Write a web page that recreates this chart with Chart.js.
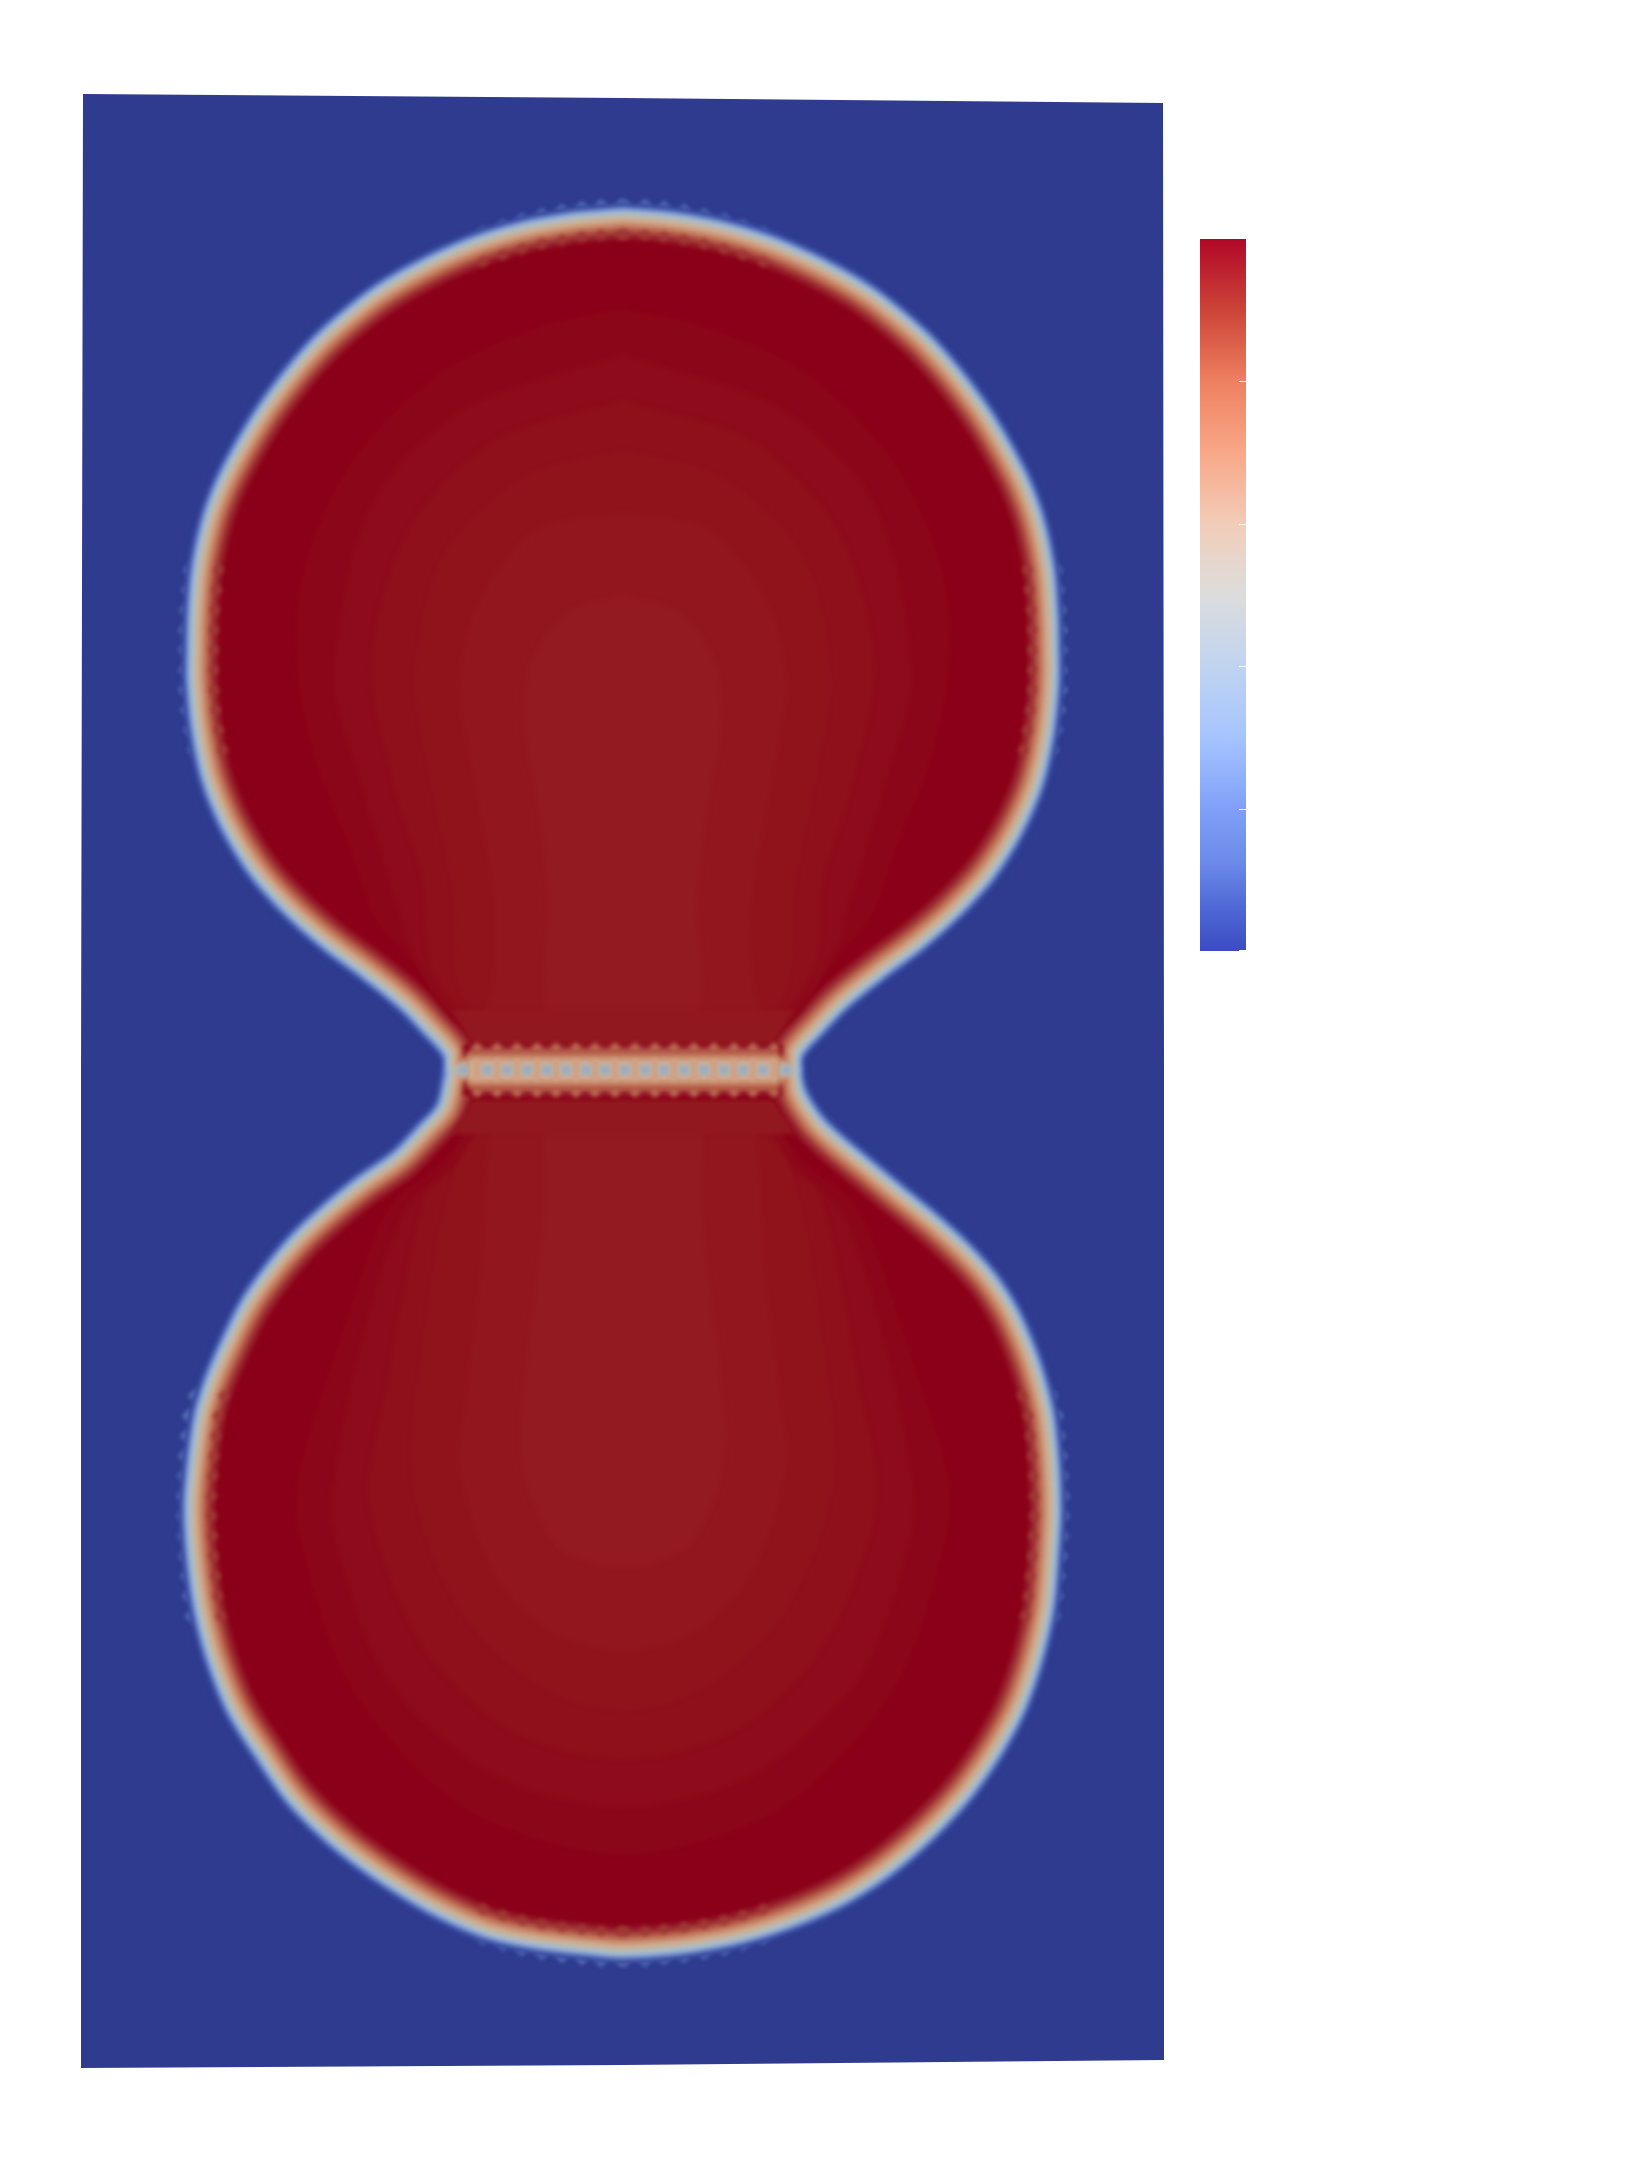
<!DOCTYPE html>
<html>
<head>
<meta charset="utf-8">
<title>Phase field</title>
<script src="https://cdn.jsdelivr.net/npm/chart.js@4/dist/chart.umd.min.js"></script>
<style>
  html, body { margin: 0; background: #fff; }
  #page { position: relative; width: 1644px; height: 2160px; overflow: hidden; }
  #field { position: absolute; left: 0; top: 0; }
  #bar { position: absolute; left: 1200px; top: 239px; }
</style>
</head>
<body>
<div id="page">
  <canvas id="field" width="1644" height="2160"></canvas>
  <canvas id="bar" width="46" height="712"></canvas>
</div>
<script>
// domain outline, mesh units (neck at 0,0)
const panelX = [-5.40, 0.00, 5.40, 5.41, 5.41, 0.00, -5.42, -5.42, -5.40];
const panelY = [9.78, 9.74, 9.69, 0.00, -9.88, -9.93, -9.96, 0.00, 9.78];

// phase boundary, read around each lobe
const upperRightX = [0, 0.47, 0.97, 1.47, 1.97, 2.47, 2.97, 3.30, 3.64, 3.97, 4.14, 4.25, 4.29, 4.30, 4.30, 4.25, 4.14, 3.94, 3.67, 3.34, 2.97, 2.57, 2.20, 1.94, 1.74, 1.72, 1.60];
const upperRightY = [8.58, 8.54, 8.45, 8.30, 8.08, 7.79, 7.38, 7.02, 6.56, 5.98, 5.55, 5.05, 4.59, 4.22, 3.89, 3.39, 2.89, 2.42, 1.99, 1.62, 1.29, 0.99, 0.69, 0.42, 0.19, 0.02, 0.02];
const lowerX = [1.72, 1.77, 1.94, 2.14, 2.44, 2.74, 3.07, 3.40, 3.67, 3.90, 4.10, 4.24, 4.30, 4.32, 4.30, 4.25, 4.14, 3.97, 3.74, 3.44, 3.07, 2.64, 2.17, 1.64, 1.14, 0.57, 0, -0.26, -0.86, -1.36, -1.86, -2.36, -2.86, -3.30, -3.63, -3.90, -4.10, -4.23, -4.30, -4.33, -4.30, -4.23, -4.13, -3.96, -3.76, -3.53, -3.26, -2.96, -2.63, -2.26, -2.00, -1.80, -1.70, -1.60, 1.60];
const lowerY = [0.02, -0.21, -0.48, -0.68, -0.93, -1.18, -1.45, -1.75, -2.05, -2.41, -2.88, -3.38, -3.88, -4.38, -4.78, -5.35, -5.85, -6.35, -6.78, -7.21, -7.61, -7.98, -8.28, -8.51, -8.66, -8.76, -8.80, -8.78, -8.71, -8.60, -8.38, -8.08, -7.71, -7.28, -6.81, -6.38, -5.88, -5.38, -4.88, -4.38, -3.95, -3.45, -3.11, -2.71, -2.31, -1.98, -1.66, -1.38, -1.11, -0.85, -0.58, -0.35, 0.02, 0.02, 0.02];

// distance from the boundary and the colour found there
const ringOffsets = [0.12, 0.09, 0.065, 0.04, 0.02, -0.01, -0.04, -0.08, -0.12, -0.16, -0.20, -0.25];
const ringColors = ['#33429a', '#4a62b0', '#6f8cc8', '#94add6', '#aebcc8', '#bdb9aa', '#d0ab8e', '#c98c6e', '#bc6a52', '#a8443c', '#96202c', '#8b0018'];

// inner contours of the upper lobe (right half)
const upperContoursX = [
  [0, 0.86, 1.87, 2.73, 3.20, 3.25, 3.06, 2.73, 2.48, 2.21, 2.01, 1.58, 0],
  [0, 1.58, 2.52, 2.89, 2.66, 2.23, 2.17, 1.60, 0],
  [0, 1.29, 2.15, 2.52, 2.30, 2.01, 1.94, 1.55, 0],
  [0, 1.00, 1.79, 2.08, 1.94, 1.69, 1.67, 1.50, 0],
  [0, 0.86, 1.43, 1.64, 1.51, 1.29, 1.30, 1.35, 0],
  [0, 0.57, 0.93, 0.99, 0.86, 0.75, 0.74, 0]
];
const upperContoursY = [
  [7.63, 7.44, 6.96, 6.07, 4.98, 3.96, 3.07, 2.24, 1.54, 1.23, 0.96, 0.45, 0.39],
  [7.18, 6.64, 5.68, 3.96, 3.00, 1.54, 1.29, 0.52, 0.45],
  [6.72, 6.32, 5.43, 4.09, 2.88, 1.92, 1.12, 0.58, 0.50],
  [6.23, 5.94, 5.17, 3.96, 3.00, 1.73, 0.99, 0.64, 0.55],
  [5.61, 5.43, 4.73, 3.90, 3.00, 1.73, 0.89, 0.58, 0.50],
  [4.78, 4.60, 4.09, 3.45, 2.69, 1.73, 0.58, 0.50]
];
// inner contours of the lower lobe (right half)
const lowerContoursX = [
  [0, 1.45, 1.80, 2.25, 2.47, 2.97, 3.24, 3.25, 2.73, 1.58, 0],
  [0, 1.45, 1.75, 2.20, 2.64, 2.90, 2.91, 2.37, 1.29, 0],
  [0, 1.40, 1.65, 1.97, 2.40, 2.55, 2.01, 1.15, 0],
  [0, 1.35, 1.69, 2.01, 2.10, 1.65, 0.86, 0],
  [0, 1.25, 1.34, 1.44, 1.60, 1.65, 1.29, 0.71, 0],
  [0, 0.70, 0.79, 0.80, 1.02, 0.97, 0.64, 0]
];
const lowerContoursY = [
  [-0.40, -0.45, -0.90, -1.25, -1.62, -3.11, -4.00, -4.56, -6.13, -7.36, -7.82],
  [-0.45, -0.50, -0.95, -1.41, -2.78, -4.11, -4.56, -6.06, -7.04, -7.36],
  [-0.50, -0.55, -0.95, -1.21, -3.30, -4.30, -5.74, -6.58, -6.88],
  [-0.55, -0.60, -1.01, -2.81, -4.11, -5.35, -6.13, -6.39],
  [-0.50, -0.55, -0.68, -2.11, -3.45, -3.91, -5.02, -5.61, -5.80],
  [-0.50, -0.52, -0.48, -1.45, -3.45, -4.11, -4.76, -4.96]
];
const contourColors = ['#8c0619', '#8d0b1a', '#8f0f1b', '#90131c', '#92161e', '#931a20'];

// the strip either side of the neck is already at the centre value
const neckBlockX = [0, 1.72, 1.50, 0];
const neckBlockY = [0.62, 0.62, 0.28, 0.28];

// tan bands along the neck, half height and colour
const neckBandHalf = [0.20, 0.15, 0.10];
const neckBandColors = ['#b45c48', '#c98c6e', '#d3ad90'];

// mesh cells along the neck
const neckCellX = [-1.60, -1.36, -1.16, -0.96, -0.76, -0.57, -0.37, -0.18, 0.02, 0.22, 0.41, 0.61, 0.81, 1.01, 1.20, 1.40, 1.63];
const neckEdgeX = [-1.46, -1.26, -1.06, -0.86, -0.67, -0.47, -0.28, -0.08, 0.12, 0.32, 0.51, 0.71, 0.91, 1.11, 1.30, 1.51];

// saw teeth left by the mesh where the boundary runs along it, right half
const capToothX = [0.02, 0.22, 0.41, 0.61, 0.81, 1.01, 1.20, 1.40];
const capTopY = [8.65, 8.65, 8.63, 8.60, 8.56, 8.51, 8.45, 8.38];
const capBottomY = [-8.87, -8.87, -8.85, -8.83, -8.80, -8.76, -8.71, -8.65];
const capTopInnerY = [8.37, 8.37, 8.35, 8.32, 8.28, 8.23, 8.17, 8.10];
const capBottomInnerY = [-8.59, -8.59, -8.57, -8.55, -8.52, -8.48, -8.43, -8.37];
const upperSideY = [3.22, 3.42, 3.62, 3.82, 4.02, 4.22, 4.42, 4.62, 4.82, 5.02];
const upperSideX = [4.21, 4.25, 4.28, 4.30, 4.30, 4.30, 4.30, 4.29, 4.27, 4.25];
const lowerSideY = [-3.24, -3.44, -3.64, -3.84, -4.04, -4.24, -4.44, -4.64, -4.84, -5.04, -5.24, -5.44];
const lowerSideX = [4.20, 4.26, 4.28, 4.30, 4.31, 4.32, 4.32, 4.31, 4.30, 4.28, 4.26, 4.23];

// colour bar
const barTicks = [0, 0.2, 0.4, 0.6, 0.8];
const barStops = [0, 0.06, 0.13, 0.2, 0.3, 0.4, 0.5, 0.54, 0.6, 0.7, 0.8, 0.9, 1];
const barColors = ['#3b4cc0', '#4f68d6', '#6d8cea', '#80a0f8', '#a6c4ff', '#c0d4f0', '#dcdcdc', '#e4d8cf', '#f2ccb8', '#f8a888', '#ee8060', '#cc4438', '#b20828'];

const zip = (xs, ys) => xs.map((x, i) => ({ x, y: ys[i] }));
const flip = p => ({ x: -p.x, y: p.y });
const bothSides = pts => pts.concat(pts.map(flip));

// upper lobe is mirror symmetric, lower lobe was read all the way round
const upperHalf = zip(upperRightX, upperRightY);
const upperLobe = upperHalf.concat(upperHalf.slice().reverse().map(flip)).slice(0, -1);
const lowerLobe = zip(lowerX, lowerY);

function mirrored(xs, ys) {
  const half = zip(xs, ys);
  return half.concat(half.slice(0, -1).reverse().map(flip));
}

// move a closed clockwise outline along its normals, positive goes outward
function offsetOutline(points, dist) {
  const n = points.length;
  return points.map((p, i) => {
    const a = points[(i - 1 + n) % n];
    const b = points[(i + 1) % n];
    const tx = b.x - a.x, ty = b.y - a.y;
    const len = Math.hypot(tx, ty) || 1;
    return { x: p.x - dist * ty / len, y: p.y + dist * tx / len };
  });
}

const shape = (data, color, tension) => ({
  data, showLine: true, fill: 'shape', tension,
  backgroundColor: color, borderColor: color, borderWidth: 0, pointRadius: 0
});

const cells = (data, style, radius, color) => ({
  data, showLine: false, pointStyle: style, pointRadius: radius,
  backgroundColor: color, borderWidth: 0
});

const teeth = (xs, ys, gapX, radius, color) =>
  cells(bothSides(zip(xs.map(x => x + gapX), ys)), 'rectRot', radius, color);

const datasets = [shape(zip(panelX, panelY), '#2e3b8e', 0)];

// blue side teeth go under the rings
datasets.push(teeth(capToothX, capTopY, 0, 8, '#5f7cc0'));
datasets.push(teeth(capToothX, capBottomY, 0, 8, '#5f7cc0'));
datasets.push(teeth(upperSideX, upperSideY, 0.07, 8, '#5f7cc0'));
datasets.push(teeth(lowerSideX, lowerSideY, 0.07, 8, '#5f7cc0'));

ringOffsets.forEach((d, i) => {
  datasets.push(shape(offsetOutline(upperLobe, d), ringColors[i], 0.3));
  datasets.push(shape(offsetOutline(lowerLobe, d), ringColors[i], 0.3));
});

// red side teeth
datasets.push(teeth(capToothX, capTopInnerY, 0, 6, '#a03834'));
datasets.push(teeth(capToothX, capBottomInnerY, 0, 6, '#a03834'));
datasets.push(teeth(upperSideX, upperSideY, -0.21, 6, '#a03834'));
datasets.push(teeth(lowerSideX, lowerSideY, -0.21, 6, '#a03834'));

contourColors.forEach((c, i) => {
  datasets.push(shape(mirrored(upperContoursX[i], upperContoursY[i]), c, 0.3));
  datasets.push(shape(mirrored(lowerContoursX[i], lowerContoursY[i]), c, 0.3));
});
datasets.push(shape(mirrored(neckBlockX, neckBlockY), '#92181f', 0));
datasets.push(shape(mirrored(neckBlockX, neckBlockY.map(y => -y)), '#92181f', 0));

datasets.push(cells(neckEdgeX.map(x => ({ x, y: 0.24 })), 'rectRot', 6, '#bc6a52'));
datasets.push(cells(neckEdgeX.map(x => ({ x, y: -0.20 })), 'rectRot', 6, '#bc6a52'));

neckBandHalf.forEach((h, i) => {
  datasets.push(shape(mirrored([0, 1.55, 1.55, 0], [0.02 + h, 0.02 + h, 0.02 - h, 0.02 - h]), neckBandColors[i], 0));
});

// tan seams between the neck cells, then the cells and their centres
datasets.push({
  data: neckEdgeX.map(x => ({ x, y: 0.02 })),
  showLine: false, pointStyle: 'line', pointRadius: 11, pointRotation: 90,
  pointBorderColor: '#cf9f82', pointBorderWidth: 6, borderColor: '#cf9f82'
});
datasets.push(cells(neckCellX.map(x => ({ x, y: 0.02 })), 'rect', 8, '#aab2b6'));
datasets.push(cells(neckCellX.map(x => ({ x, y: 0.02 })), 'rect', 4, '#96aac4'));

// first listed is drawn first
datasets.forEach((d, i) => { d.order = datasets.length - i; });

// the domain edge stays crisp, everything on it is smoothed
const smoothField = {
  id: 'smoothField',
  afterDatasetDraw(chart, args) {
    if (args.index === 0) chart.ctx.filter = 'blur(2px)';
  },
  afterDatasetsDraw(chart) { chart.ctx.filter = 'none'; }
};

new Chart(document.getElementById('field'), {
  type: 'scatter',
  data: { datasets },
  plugins: [smoothField],
  options: {
    responsive: false,
    animation: false,
    devicePixelRatio: 1,
    layout: { padding: 0, autoPadding: false },
    plugins: { legend: { display: false }, tooltip: { enabled: false } },
    scales: {
      x: { type: 'linear', display: false, min: -6.23, max: 10.21 },
      y: { type: 'linear', display: false, min: -10.88, max: 10.72 }
    }
  }
});

// white tick marks sit inside the bar, right edge
const barTickMarks = {
  id: 'barTickMarks',
  afterDatasetsDraw(chart) {
    const { ctx, chartArea, scales } = chart;
    ctx.save();
    ctx.strokeStyle = '#fff';
    ctx.lineWidth = 1;
    barTicks.forEach(t => {
      const y = Math.min(Math.round(scales.y.getPixelForValue(t)) + 0.5, chartArea.bottom - 0.5);
      ctx.beginPath();
      ctx.moveTo(chartArea.right - 7, y);
      ctx.lineTo(chartArea.right, y);
      ctx.stroke();
    });
    ctx.restore();
  }
};

new Chart(document.getElementById('bar'), {
  type: 'bar',
  data: {
    labels: [''],
    datasets: [{
      data: [[0, 1]],
      barPercentage: 1,
      categoryPercentage: 1,
      backgroundColor(c) {
        const { ctx, scales, chartArea } = c.chart;
        if (!chartArea) return barColors[0];
        const g = ctx.createLinearGradient(0, scales.y.getPixelForValue(0), 0, scales.y.getPixelForValue(1));
        barStops.forEach((s, i) => g.addColorStop(s, barColors[i]));
        return g;
      }
    }]
  },
  plugins: [barTickMarks],
  options: {
    responsive: false,
    animation: false,
    devicePixelRatio: 1,
    layout: { padding: 0, autoPadding: false },
    plugins: { legend: { display: false }, tooltip: { enabled: false } },
    scales: {
      x: { display: false },
      y: { display: false, min: 0, max: 1 }
    }
  }
});
</script>
</body>
</html>
